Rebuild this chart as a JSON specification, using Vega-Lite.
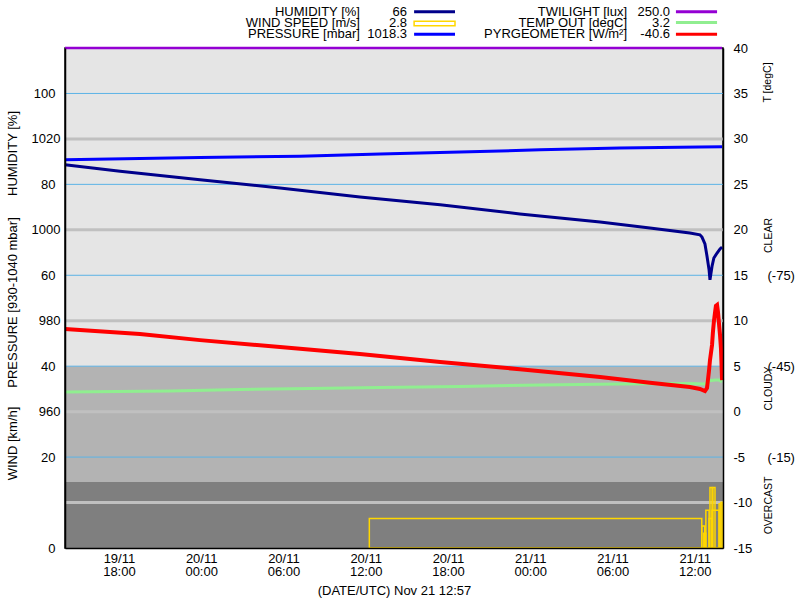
{
  "$schema": "https://vega.github.io/schema/vega-lite/v6.json",
  "width": 658,
  "height": 500,
  "autosize": "none",
  "padding": {"left": 65, "top": 48, "right": 77, "bottom": 52},
  "background": "white",
  "config": {
    "font": "Liberation Sans",
    "view": {"stroke": "black", "strokeWidth": 1.5, "fill": "#e5e5e5"},
    "axis": {"labelFont": "Liberation Sans", "titleFont": "Liberation Sans", "labelFontSize": 13, "titleFontSize": 13, "titleFontWeight": "normal", "labelColor": "black", "titleColor": "black", "grid": false, "labelFlush": false, "labelOverlap": false, "ticks": false, "tickSize": 0},
    "text": {"font": "Liberation Sans"}
  },
  "datasets": {
    "bands": [
      {"t": "2024-11-19T14:04:00Z", "t2": "2024-11-21T14:04:00Z", "lo": -45, "hi": -6.8, "c": "mid"},
      {"t": "2024-11-19T14:04:00Z", "t2": "2024-11-21T14:04:00Z", "lo": -6.8, "hi": 15, "c": "dark"}
    ],
    "pgrid": [{"p": 940}, {"p": 960}, {"p": 980}, {"p": 1000}, {"p": 1020}],
    "hgrid": [{"h": 20}, {"h": 40}, {"h": 60}, {"h": 80}, {"h": 100}],
    "wind": [
      {"t": "2024-11-20T12:16:00Z", "t2": "2024-11-21T12:31:00Z", "v": 1.8},
      {"t": "2024-11-21T12:31:00Z", "t2": "2024-11-21T12:44:00Z", "v": 1.35},
      {"t": "2024-11-21T12:40:00Z", "t2": "2024-11-21T12:49:00Z", "v": 0.9},
      {"t": "2024-11-21T12:49:00Z", "t2": "2024-11-21T13:03:00Z", "v": 2.3},
      {"t": "2024-11-21T13:03:00Z", "t2": "2024-11-21T13:16:00Z", "v": 1.8},
      {"t": "2024-11-21T13:07:00Z", "t2": "2024-11-21T13:16:00Z", "v": 3.7},
      {"t": "2024-11-21T13:20:00Z", "t2": "2024-11-21T13:29:00Z", "v": 3.7},
      {"t": "2024-11-21T13:16:00Z", "t2": "2024-11-21T13:47:00Z", "v": 2.3},
      {"t": "2024-11-21T13:47:00Z", "t2": "2024-11-21T13:55:00Z", "v": 2.7},
      {"t": "2024-11-21T13:55:00Z", "t2": "2024-11-21T14:03:00Z", "v": 2.8}
    ],
    "pres": [
      {"t": "2024-11-19T14:04:00Z", "p": 1015.4},
      {"t": "2024-11-19T23:55:00Z", "p": 1015.9},
      {"t": "2024-11-20T07:12:00Z", "p": 1016.2},
      {"t": "2024-11-20T13:03:00Z", "p": 1016.7},
      {"t": "2024-11-20T18:53:00Z", "p": 1017.1},
      {"t": "2024-11-21T00:43:00Z", "p": 1017.6},
      {"t": "2024-11-21T06:33:00Z", "p": 1018.0},
      {"t": "2024-11-21T12:23:00Z", "p": 1018.2},
      {"t": "2024-11-21T14:00:00Z", "p": 1018.3}
    ],
    "hum": [
      {"t": "2024-11-19T14:04:00Z", "h": 84.3},
      {"t": "2024-11-19T18:05:00Z", "h": 82.9},
      {"t": "2024-11-19T23:55:00Z", "h": 81.0},
      {"t": "2024-11-20T05:45:00Z", "h": 79.2},
      {"t": "2024-11-20T11:35:00Z", "h": 77.2},
      {"t": "2024-11-20T17:26:00Z", "h": 75.5},
      {"t": "2024-11-20T23:15:00Z", "h": 73.5},
      {"t": "2024-11-21T05:06:00Z", "h": 71.7},
      {"t": "2024-11-21T08:44:00Z", "h": 70.4},
      {"t": "2024-11-21T11:39:00Z", "h": 69.3},
      {"t": "2024-11-21T12:23:00Z", "h": 68.9},
      {"t": "2024-11-21T12:32:00Z", "h": 68.4},
      {"t": "2024-11-21T12:45:00Z", "h": 66.9},
      {"t": "2024-11-21T12:54:00Z", "h": 64.2},
      {"t": "2024-11-21T13:03:00Z", "h": 61.2},
      {"t": "2024-11-21T13:07:00Z", "h": 59.0},
      {"t": "2024-11-21T13:16:00Z", "h": 62.0},
      {"t": "2024-11-21T13:24:00Z", "h": 63.8},
      {"t": "2024-11-21T13:38:00Z", "h": 64.9},
      {"t": "2024-11-21T13:51:00Z", "h": 65.8},
      {"t": "2024-11-21T14:00:00Z", "h": 66.2}
    ],
    "temp": [
      {"t": "2024-11-19T14:04:00Z", "T": 2.16},
      {"t": "2024-11-19T21:44:00Z", "T": 2.27},
      {"t": "2024-11-20T02:50:00Z", "T": 2.43},
      {"t": "2024-11-20T07:56:00Z", "T": 2.55},
      {"t": "2024-11-20T13:03:00Z", "T": 2.66},
      {"t": "2024-11-20T18:53:00Z", "T": 2.77},
      {"t": "2024-11-21T00:43:00Z", "T": 2.93},
      {"t": "2024-11-21T06:33:00Z", "T": 3.04},
      {"t": "2024-11-21T11:39:00Z", "T": 3.10},
      {"t": "2024-11-21T12:45:00Z", "T": 3.04},
      {"t": "2024-11-21T12:58:00Z", "T": 3.37},
      {"t": "2024-11-21T13:29:00Z", "T": 3.48},
      {"t": "2024-11-21T13:47:00Z", "T": 3.48},
      {"t": "2024-11-21T14:00:00Z", "T": 3.26}
    ],
    "pyr": [
      {"t": "2024-11-19T14:04:00Z", "w": -57.3},
      {"t": "2024-11-19T19:32:00Z", "w": -55.6},
      {"t": "2024-11-19T23:55:00Z", "w": -53.6},
      {"t": "2024-11-20T05:45:00Z", "w": -51.3},
      {"t": "2024-11-20T11:35:00Z", "w": -49.0},
      {"t": "2024-11-20T17:26:00Z", "w": -46.4},
      {"t": "2024-11-20T23:15:00Z", "w": -44.0},
      {"t": "2024-11-21T05:06:00Z", "w": -41.4},
      {"t": "2024-11-21T08:44:00Z", "w": -39.5},
      {"t": "2024-11-21T11:39:00Z", "w": -38.1},
      {"t": "2024-11-21T12:23:00Z", "w": -37.5},
      {"t": "2024-11-21T12:45:00Z", "w": -36.8},
      {"t": "2024-11-21T12:54:00Z", "w": -37.8},
      {"t": "2024-11-21T12:58:00Z", "w": -40.4},
      {"t": "2024-11-21T13:03:00Z", "w": -43.7},
      {"t": "2024-11-21T13:07:00Z", "w": -47.0},
      {"t": "2024-11-21T13:16:00Z", "w": -52.0},
      {"t": "2024-11-21T13:20:00Z", "w": -56.3},
      {"t": "2024-11-21T13:24:00Z", "w": -59.6},
      {"t": "2024-11-21T13:29:00Z", "w": -62.6},
      {"t": "2024-11-21T13:33:00Z", "w": -64.9},
      {"t": "2024-11-21T13:38:00Z", "w": -65.2},
      {"t": "2024-11-21T13:42:00Z", "w": -62.9},
      {"t": "2024-11-21T13:47:00Z", "w": -58.6},
      {"t": "2024-11-21T13:51:00Z", "w": -55.3},
      {"t": "2024-11-21T13:55:00Z", "w": -51.0},
      {"t": "2024-11-21T14:00:00Z", "w": -40.4}
    ],
    "twi": [
      {"t": "2024-11-19T14:04:00Z", "l": 250},
      {"t": "2024-11-21T14:00:00Z", "l": 250}
    ],
    "legtext": [
      {"txt": "HUMIDITY [%]", "t": "2024-11-20T11:35:00Z", "ty": 44.0},
      {"txt": "66", "t": "2024-11-20T15:01:00Z", "ty": 44.0},
      {"txt": "WIND SPEED [m/s]", "t": "2024-11-20T11:35:00Z", "ty": 42.8},
      {"txt": "2.8", "t": "2024-11-20T15:01:00Z", "ty": 42.8},
      {"txt": "PRESSURE [mbar]", "t": "2024-11-20T11:35:00Z", "ty": 41.5},
      {"txt": "1018.3", "t": "2024-11-20T15:01:00Z", "ty": 41.5},
      {"txt": "TWILIGHT [lux]", "t": "2024-11-21T07:04:00Z", "ty": 44.0},
      {"txt": "250.0", "t": "2024-11-21T10:12:00Z", "ty": 44.0},
      {"txt": "TEMP OUT [degC]", "t": "2024-11-21T07:04:00Z", "ty": 42.8},
      {"txt": "3.2", "t": "2024-11-21T10:12:00Z", "ty": 42.8},
      {"txt": "PYRGEOMETER [W/m²]", "t": "2024-11-21T07:04:00Z", "ty": 41.5},
      {"txt": "-40.6", "t": "2024-11-21T10:12:00Z", "ty": 41.5}
    ],
    "legsym": [
      {"s": "hum", "t": "2024-11-20T15:32:00Z", "t2": "2024-11-20T18:31:00Z", "ty": 44.0},
      {"s": "pres", "t": "2024-11-20T15:32:00Z", "t2": "2024-11-20T18:31:00Z", "ty": 41.5},
      {"s": "twi", "t": "2024-11-21T10:38:00Z", "t2": "2024-11-21T13:38:00Z", "ty": 44.0},
      {"s": "temp", "t": "2024-11-21T10:38:00Z", "t2": "2024-11-21T13:38:00Z", "ty": 42.8},
      {"s": "pyr", "t": "2024-11-21T10:38:00Z", "t2": "2024-11-21T13:38:00Z", "ty": 41.5}
    ],
    "legwind": [
      {"t": "2024-11-20T15:32:00Z", "t2": "2024-11-20T18:31:00Z", "y1": 42.95, "y2": 42.45}
    ]
  },
  "resolve": {"scale": {"y": "independent", "color": "independent"}, "axis": {"y": "independent"}, "legend": {"color": "independent"}},
  "layer": [
    {
      "data": {"name": "bands"},
      "mark": {"type": "rect"},
      "encoding": {
        "x": {"field": "t", "type": "temporal",
          "scale": {"type": "utc", "nice": false, "domain": [
            {"year": 2024, "month": 11, "date": 19, "hours": 14, "minutes": 4, "utc": true},
            {"year": 2024, "month": 11, "date": 21, "hours": 14, "minutes": 4, "utc": true}]},
          "axis": {
            "values": [
              {"year": 2024, "month": 11, "date": 19, "hours": 18, "utc": true},
              {"year": 2024, "month": 11, "date": 20, "hours": 0, "utc": true},
              {"year": 2024, "month": 11, "date": 20, "hours": 6, "utc": true},
              {"year": 2024, "month": 11, "date": 20, "hours": 12, "utc": true},
              {"year": 2024, "month": 11, "date": 20, "hours": 18, "utc": true},
              {"year": 2024, "month": 11, "date": 21, "hours": 0, "utc": true},
              {"year": 2024, "month": 11, "date": 21, "hours": 6, "utc": true},
              {"year": 2024, "month": 11, "date": 21, "hours": 12, "utc": true}
            ],
            "labelExpr": "[utcFormat(datum.value, '%d/%m'), utcFormat(datum.value, '%H:%M')]",
            "labelLineHeight": 13,
            "labelPadding": 4,
            "labelAngle": 0,
            "labelAlign": "center",
            "labelBaseline": "top",
            "domain": true, "domainColor": "black", "domainWidth": 1.5, "zindex": 1,
            "title": "(DATE/UTC) Nov 21 12:57",
            "titleY": 42, "titleBaseline": "middle"
          }},
        "x2": {"field": "t2"},
        "y": {"field": "lo", "type": "quantitative",
          "scale": {"domain": [15, -150], "nice": false, "zero": false},
          "axis": {"orient": "right", "values": [-88.3, -37.8, 0.8],
            "labelExpr": "datum.value < -60 ? 'CLEAR' : (datum.value < -20 ? 'CLOUDY' : 'OVERCAST')",
            "labelAngle": 270, "labelAlign": "center", "labelBaseline": "middle",
            "labelPadding": 45, "labelFontSize": 10.5, "domain": false, "title": null}},
        "y2": {"field": "hi"},
        "color": {"field": "c", "type": "nominal", "scale": {"domain": ["mid", "dark"], "range": ["#b3b3b3", "#7f7f7f"]}, "legend": null}
      }
    },
    {
      "data": {"name": "pgrid"},
      "mark": {"type": "rule", "color": "#c0c0c0", "strokeWidth": 3},
      "encoding": {
        "y": {"field": "p", "type": "quantitative",
          "scale": {"domain": [930, 1040], "nice": false, "zero": false},
          "axis": {"orient": "left", "values": [960, 980, 1000, 1020], "labelExpr": "'' + datum.value",
            "labelPadding": 5, "domain": false,
            "title": "PRESSURE [930-1040 mbar]", "titleX": -53, "titleY": 254, "titleAngle": 270,
            "titleAlign": "center", "titleBaseline": "middle"}}
      }
    },
    {
      "data": {"name": "hgrid"},
      "mark": {"type": "rule", "color": "#5cb3e6", "strokeWidth": 1},
      "encoding": {
        "y": {"field": "h", "type": "quantitative",
          "scale": {"domain": [0, 110], "nice": false, "zero": false},
          "axis": {"orient": "left", "values": [0, 20, 40, 60, 80, 100], "labelExpr": "'' + datum.value",
            "labelPadding": 10, "domain": true, "domainColor": "black", "domainWidth": 1.5, "zindex": 1,
            "title": "HUMIDITY [%]", "titleX": -53, "titleY": 105, "titleAngle": 270,
            "titleAlign": "center", "titleBaseline": "middle"}}
      }
    },
    {
      "data": {"name": "wind"},
      "mark": {"type": "rect", "stroke": "#ffd700", "strokeWidth": 1.5, "fillOpacity": 0, "fill": "#ffd700"},
      "encoding": {
        "x": {"field": "t", "type": "temporal"},
        "x2": {"field": "t2"},
        "y": {"field": "v", "type": "quantitative",
          "scale": {"domain": [0, 30.556], "nice": false, "zero": false},
          "axis": {"orient": "left", "labels": false, "domain": false,
            "title": "WIND [km/h]", "titleX": -53, "titleY": 395, "titleAngle": 270,
            "titleAlign": "center", "titleBaseline": "middle"}},
        "y2": {"datum": 0}
      }
    },
    {
      "data": {"name": "pres"},
      "mark": {"type": "line", "color": "#0000ff", "strokeWidth": 3},
      "encoding": {
        "x": {"field": "t", "type": "temporal"},
        "y": {"field": "p", "type": "quantitative", "scale": {"domain": [930, 1040], "nice": false, "zero": false}, "axis": null}
      }
    },
    {
      "data": {"name": "hum"},
      "mark": {"type": "line", "color": "#00008b", "strokeWidth": 3},
      "encoding": {
        "x": {"field": "t", "type": "temporal"},
        "y": {"field": "h", "type": "quantitative", "scale": {"domain": [0, 110], "nice": false, "zero": false}, "axis": null}
      }
    },
    {
      "data": {"name": "temp"},
      "mark": {"type": "line", "color": "#90ee90", "strokeWidth": 3},
      "encoding": {
        "x": {"field": "t", "type": "temporal"},
        "y": {"field": "T", "type": "quantitative",
          "scale": {"domain": [-15, 40], "nice": false, "zero": false},
          "axis": {"orient": "right", "values": [-15, -10, -5, 0, 5, 10, 15, 20, 25, 30, 35, 40],
            "labelExpr": "'' + datum.value", "labelAlign": "left", "labelBaseline": "middle", "labelPadding": 10,
            "domain": true, "domainColor": "black", "domainWidth": 1.5, "zindex": 1,
            "title": "T [degC]", "titleX": 44, "titleY": 34, "titleAngle": 270, "titleFontSize": 10.5,
            "titleAlign": "center", "titleBaseline": "middle"}}
      }
    },
    {
      "data": {"name": "pyr"},
      "mark": {"type": "line", "color": "#ff0000", "strokeWidth": 4},
      "encoding": {
        "x": {"field": "t", "type": "temporal"},
        "y": {"field": "w", "type": "quantitative",
          "scale": {"domain": [15, -150], "nice": false, "zero": false},
          "axis": {"orient": "right", "values": [-75, -45, -15], "labelExpr": "'(' + datum.value + ')'",
            "labelAlign": "left", "labelBaseline": "middle", "labelPadding": 44, "domain": false, "title": null}}
      }
    },
    {
      "data": {"name": "twi"},
      "mark": {"type": "line", "color": "#9400d3", "strokeWidth": 2.5},
      "encoding": {
        "x": {"field": "t", "type": "temporal"},
        "y": {"field": "l", "type": "quantitative", "scale": {"domain": [0, 250], "nice": false, "zero": false}, "axis": null}
      }
    },
    {
      "data": {"name": "legtext"},
      "mark": {"type": "text", "align": "right", "baseline": "middle", "fontSize": 13, "color": "black"},
      "encoding": {
        "x": {"field": "t", "type": "temporal"},
        "y": {"field": "ty", "type": "quantitative", "scale": {"domain": [-15, 40], "nice": false, "zero": false}, "axis": null},
        "text": {"field": "txt", "type": "nominal"}
      }
    },
    {
      "data": {"name": "legsym"},
      "mark": {"type": "rule", "strokeWidth": 3},
      "encoding": {
        "x": {"field": "t", "type": "temporal"},
        "x2": {"field": "t2"},
        "y": {"field": "ty", "type": "quantitative", "scale": {"domain": [-15, 40], "nice": false, "zero": false}, "axis": null},
        "color": {"field": "s", "type": "nominal",
          "scale": {"domain": ["hum", "pres", "twi", "temp", "pyr"], "range": ["#00008b", "#0000ff", "#9400d3", "#90ee90", "#ff0000"]},
          "legend": null}
      }
    },
    {
      "data": {"name": "legwind"},
      "mark": {"type": "rect", "stroke": "#ffd700", "strokeWidth": 1.5, "fillOpacity": 0, "fill": "#ffd700"},
      "encoding": {
        "x": {"field": "t", "type": "temporal"},
        "x2": {"field": "t2"},
        "y": {"field": "y1", "type": "quantitative", "scale": {"domain": [-15, 40], "nice": false, "zero": false}, "axis": null},
        "y2": {"field": "y2"}
      }
    }
  ]
}
